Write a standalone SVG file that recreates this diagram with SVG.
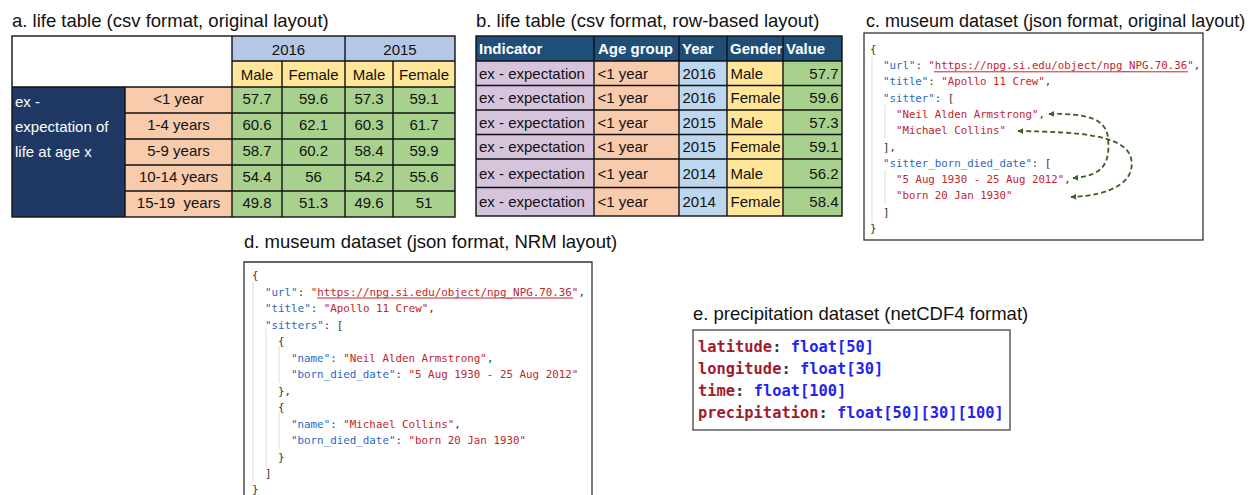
<svg xmlns="http://www.w3.org/2000/svg" width="1254" height="495" viewBox="0 0 1254 495">
  <defs>
    <style>
      .title { font-family: "Liberation Sans", Arial, sans-serif; font-size: 18.5px; fill: #111; }
      .cell { font-family: "Liberation Sans", Arial, sans-serif; font-size: 15px; fill: #111; }
      .c { text-anchor: middle; }
      .r { text-anchor: end; }
      .w { fill: #fff; }
      .hd { font-weight: bold; fill: #fff; }
      .grid { stroke: #111; stroke-width: 1.4; }
      .code { font-family: "DejaVu Sans Mono", "Liberation Mono", monospace; font-size: 10.75px; fill: #333; white-space: pre; }
      .k { fill: #2a67c4; }
      .s { fill: #c2252b; }
      .guide { stroke: #dcdcdc; stroke-width: 1; }
      .box { fill: #fff; stroke: #333; stroke-width: 1.3; }
      .nc { font-family: "DejaVu Sans Mono", "Liberation Mono", monospace; font-size: 15.4px; font-weight: bold; white-space: pre; }
      .nk { fill: #9e1c2e; }
      .nt { fill: #2323f0; }
      .link { fill: none; stroke: #3b5e2b; stroke-width: 1.8; stroke-dasharray: 5 3; }
    </style>
    <marker id="tip" viewBox="0 0 10 10" refX="9" refY="5" markerWidth="6" markerHeight="6" markerUnits="userSpaceOnUse" orient="auto-start-reverse">
      <path d="M0,0 L10,5 L0,10 z" fill="#3b5e2b"/>
    </marker>
    <clipPath id="genderClip"><rect x="727" y="36" width="56" height="25"/></clipPath>
  </defs>

  <!-- a. life table, original layout -->
  <g id="table-a">
    <text class="title" x="12" y="27">a. life table (csv format, original layout)</text>
    <rect x="12" y="36" width="220" height="51" fill="#fff"/>
    <rect x="232" y="36" width="223" height="25" fill="#b4c7e7"/>
    <rect x="232" y="61" width="223" height="26" fill="#ffe699"/>
    <rect x="12" y="87" width="113" height="130" fill="#203864"/>
    <rect x="125" y="87" width="107" height="130" fill="#f8cbad"/>
    <rect x="232" y="87" width="223" height="130" fill="#a9d18e"/>
    <g class="grid">
      <rect x="12" y="36" width="443" height="181" fill="none"/>
      <line x1="232" y1="36" x2="232" y2="217"/>
      <line x1="345" y1="36" x2="345" y2="217"/>
      <line x1="282" y1="61" x2="282" y2="217"/>
      <line x1="393" y1="61" x2="393" y2="217"/>
      <line x1="125" y1="87" x2="125" y2="217"/>
      <line x1="232" y1="61" x2="455" y2="61"/>
      <line x1="12" y1="87" x2="455" y2="87"/>
      <line x1="125" y1="113" x2="455" y2="113"/>
      <line x1="125" y1="139" x2="455" y2="139"/>
      <line x1="125" y1="165" x2="455" y2="165"/>
      <line x1="125" y1="191" x2="455" y2="191"/>
    </g>
    <text class="cell c" x="288.5" y="55">2016</text>
    <text class="cell c" x="400" y="55">2015</text>
    <text class="cell c" x="257" y="80">Male</text>
    <text class="cell c" x="313.5" y="80">Female</text>
    <text class="cell c" x="369" y="80">Male</text>
    <text class="cell c" x="424" y="80">Female</text>
    <text class="cell w" x="15" y="107">ex -</text>
    <text class="cell w" x="15" y="132">expectation of</text>
    <text class="cell w" x="15" y="157">life at age x</text>
    <g class="cell c">
      <text x="178.5" y="104">&lt;1 year</text>
      <text x="178.5" y="130">1-4 years</text>
      <text x="178.5" y="156">5-9 years</text>
      <text x="178.5" y="182">10-14 years</text>
      <text x="178.5" y="208" xml:space="preserve">15-19  years</text>
      <text x="257" y="104">57.7</text><text x="313.5" y="104">59.6</text><text x="369" y="104">57.3</text><text x="424" y="104">59.1</text>
      <text x="257" y="130">60.6</text><text x="313.5" y="130">62.1</text><text x="369" y="130">60.3</text><text x="424" y="130">61.7</text>
      <text x="257" y="156">58.7</text><text x="313.5" y="156">60.2</text><text x="369" y="156">58.4</text><text x="424" y="156">59.9</text>
      <text x="257" y="182">54.4</text><text x="313.5" y="182">56</text><text x="369" y="182">54.2</text><text x="424" y="182">55.6</text>
      <text x="257" y="208">49.8</text><text x="313.5" y="208">51.3</text><text x="369" y="208">49.6</text><text x="424" y="208">51</text>
    </g>
  </g>

  <!-- b. life table, row-based layout -->
  <g id="table-b">
    <text class="title" x="476" y="27">b. life table (csv format, row-based layout)</text>
    <rect x="476" y="36" width="366" height="25" fill="#1f4e79"/>
    <rect x="476" y="61" width="118" height="155" fill="#d6c4dd"/>
    <rect x="594" y="61" width="85" height="155" fill="#f8cbad"/>
    <rect x="679" y="61" width="48" height="155" fill="#bdd7ee"/>
    <rect x="727" y="61" width="56" height="155" fill="#ffe699"/>
    <rect x="783" y="61" width="59" height="155" fill="#a9d18e"/>
    <text class="cell hd" x="479" y="54">Indicator</text>
    <text class="cell hd" x="598" y="54">Age group</text>
    <text class="cell hd" x="682" y="54">Year</text>
    <text class="cell hd" x="730" y="54" clip-path="url(#genderClip)">Gender</text>
    <text class="cell hd" x="786" y="54">Value</text>
    <g class="grid">
      <rect x="476" y="36" width="366" height="180" fill="none"/>
      <line x1="594" y1="36" x2="594" y2="216"/>
      <line x1="679" y1="36" x2="679" y2="216"/>
      <line x1="727" y1="36" x2="727" y2="216"/>
      <line x1="783" y1="36" x2="783" y2="216"/>
      <line x1="476" y1="61" x2="842" y2="61"/>
      <line x1="476" y1="85.5" x2="842" y2="85.5"/>
      <line x1="476" y1="110" x2="842" y2="110"/>
      <line x1="476" y1="134.5" x2="842" y2="134.5"/>
      <line x1="476" y1="159" x2="842" y2="159"/>
      <line x1="476" y1="187.5" x2="842" y2="187.5"/>
    </g>
    <g class="cell">
      <text x="479" y="78.6">ex - expectation</text><text x="597.5" y="78.6">&lt;1 year</text><text x="682.5" y="78.6">2016</text><text x="730.5" y="78.6">Male</text><text class="r" x="838.5" y="78.6">57.7</text>
      <text x="479" y="103">ex - expectation</text><text x="597.5" y="103">&lt;1 year</text><text x="682.5" y="103">2016</text><text x="730.5" y="103">Female</text><text class="r" x="838.5" y="103">59.6</text>
      <text x="479" y="127.6">ex - expectation</text><text x="597.5" y="127.6">&lt;1 year</text><text x="682.5" y="127.6">2015</text><text x="730.5" y="127.6">Male</text><text class="r" x="838.5" y="127.6">57.3</text>
      <text x="479" y="152">ex - expectation</text><text x="597.5" y="152">&lt;1 year</text><text x="682.5" y="152">2015</text><text x="730.5" y="152">Female</text><text class="r" x="838.5" y="152">59.1</text>
      <text x="479" y="178.6">ex - expectation</text><text x="597.5" y="178.6">&lt;1 year</text><text x="682.5" y="178.6">2014</text><text x="730.5" y="178.6">Male</text><text class="r" x="838.5" y="178.6">56.2</text>
      <text x="479" y="207">ex - expectation</text><text x="597.5" y="207">&lt;1 year</text><text x="682.5" y="207">2014</text><text x="730.5" y="207">Female</text><text class="r" x="838.5" y="207">58.4</text>
    </g>
  </g>

  <!-- c. museum dataset, original json layout -->
  <g id="json-c">
    <text class="title" x="866" y="27" style="font-size:18px">c. museum dataset (json format, original layout)</text>
    <rect class="box" x="864" y="33" width="339" height="207"/>
    <line class="guide" x1="872" y1="57" x2="872" y2="223"/>
    <line class="guide" x1="885" y1="105" x2="885" y2="138"/>
    <line class="guide" x1="885" y1="170" x2="885" y2="203"/>
    <line x1="934" y1="71.8" x2="1188" y2="71.8" stroke="#c2252b" stroke-width="1"/>
    <g class="code">
      <text x="870" y="53">{</text>
      <text x="883" y="69"><tspan class="k">"url"</tspan>: <tspan class="s">"https://npg.si.edu/object/npg_NPG.70.36"</tspan>,</text>
      <text x="883" y="85.3"><tspan class="k">"title"</tspan>: <tspan class="s">"Apollo 11 Crew"</tspan>,</text>
      <text x="883" y="101.6"><tspan class="k">"sitter"</tspan>: [</text>
      <text x="896" y="118"><tspan class="s">"Neil Alden Armstrong"</tspan>,</text>
      <text x="896" y="134.2"><tspan class="s">"Michael Collins"</tspan></text>
      <text x="883" y="150.5">],</text>
      <text x="883" y="166.8"><tspan class="k">"sitter_born_died_date"</tspan>: [</text>
      <text x="896" y="183"><tspan class="s">"5 Aug 1930 - 25 Aug 2012"</tspan>,</text>
      <text x="896" y="199.4"><tspan class="s">"born 20 Jan 1930"</tspan></text>
      <text x="883" y="215.7">]</text>
      <text x="870" y="232">}</text>
    </g>
  </g>

  <!-- links between each sitter and its date -->
  <g id="connectors">
    <path class="link" d="M1049,114 C1088,113 1106,119 1108,138 C1110,160 1106,176 1073,178" marker-start="url(#tip)" marker-end="url(#tip)"/>
    <path class="link" d="M1018,131 C1080,132 1125,135 1131,158 C1136,180 1115,195 1071,197" marker-start="url(#tip)" marker-end="url(#tip)"/>
  </g>

  <!-- d. museum dataset, NRM json layout -->
  <g id="json-d">
    <text class="title" x="244" y="248">d. museum dataset (json format, NRM layout)</text>
    <path d="M244,500 V262 H592 V500" fill="#fff" stroke="#333" stroke-width="1.3"/>
    <line class="guide" x1="253" y1="282" x2="253" y2="482"/>
    <line class="guide" x1="266" y1="329" x2="266" y2="466"/>
    <line class="guide" x1="279" y1="346" x2="279" y2="383"/>
    <line class="guide" x1="279" y1="411" x2="279" y2="449"/>
    <line x1="317" y1="298" x2="573" y2="298" stroke="#c2252b" stroke-width="1"/>
    <g class="code" style="font-size:10.85px">
      <text x="252" y="279">{</text>
      <text x="265" y="295.5"><tspan class="k">"url"</tspan>: <tspan class="s">"https://npg.si.edu/object/npg_NPG.70.36"</tspan>,</text>
      <text x="265" y="312"><tspan class="k">"title"</tspan>: <tspan class="s">"Apollo 11 Crew"</tspan>,</text>
      <text x="265" y="328.5"><tspan class="k">"sitters"</tspan>: [</text>
      <text x="278" y="345">{</text>
      <text x="291" y="361.5"><tspan class="k">"name"</tspan>: <tspan class="s">"Neil Alden Armstrong"</tspan>,</text>
      <text x="291" y="378"><tspan class="k">"born_died_date"</tspan>: <tspan class="s">"5 Aug 1930 - 25 Aug 2012"</tspan></text>
      <text x="278" y="394.5">},</text>
      <text x="278" y="411">{</text>
      <text x="291" y="427.5"><tspan class="k">"name"</tspan>: <tspan class="s">"Michael Collins"</tspan>,</text>
      <text x="291" y="444"><tspan class="k">"born_died_date"</tspan>: <tspan class="s">"born 20 Jan 1930"</tspan></text>
      <text x="278" y="460.5">}</text>
      <text x="265" y="477">]</text>
      <text x="252" y="493">}</text>
    </g>
  </g>

  <!-- e. precipitation dataset, netCDF4 -->
  <g id="netcdf-e">
    <text class="title" x="693" y="320">e. precipitation dataset (netCDF4 format)</text>
    <rect x="693" y="330" width="317" height="100" fill="#fff" stroke="#444" stroke-width="1.3"/>
    <g class="nc">
      <text x="698" y="352"><tspan class="nk">latitude</tspan><tspan fill="#333">: </tspan><tspan class="nt">float[50]</tspan></text>
      <text x="698" y="374"><tspan class="nk">longitude</tspan><tspan fill="#333">: </tspan><tspan class="nt">float[30]</tspan></text>
      <text x="698" y="396"><tspan class="nk">time</tspan><tspan fill="#333">: </tspan><tspan class="nt">float[100]</tspan></text>
      <text x="698" y="418"><tspan class="nk">precipitation</tspan><tspan fill="#333">: </tspan><tspan class="nt">float[50][30][100]</tspan></text>
    </g>
  </g>
</svg>
